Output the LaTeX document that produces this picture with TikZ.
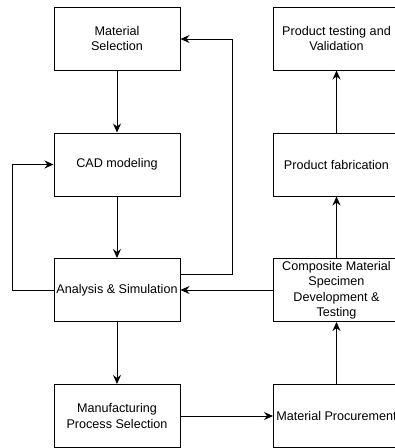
\documentclass[tikz,border=0pt]{standalone}
\usepackage{fontspec}
\setmainfont{Liberation Sans}
\usetikzlibrary{arrows.meta}
\begin{document}
\begin{tikzpicture}[x=1pt,y=-1pt,
  box/.style={draw, line width=1pt, minimum width=126pt, minimum height=63pt, align=center, font=\fontsize{12.6}{15.5}\selectfont, inner sep=1pt},
  conn/.style={line width=1pt, -{Stealth[length=9pt,width=8pt,inset=3pt]}}]
\useasboundingbox (0,0) rectangle (395,448);
\node[box] (ms) at (117,38.5) {Material\\Selection};
\node[box] (cad) at (117,164.5) {CAD modeling};
\node[box] (an) at (117,290) {Analysis \& Simulation};
\node[box] (mps) at (117,416) {Manufacturing\\Process Selection};
\node[box] (ptv) at (336.5,38.5) {Product testing and\\Validation};
\node[box] (pf) at (336.5,164.5) {Product fabrication};
\node[box] (cms) at (336.5,290) {Composite Material\\Specimen\\Development \&\\Testing};
\node[box] (mp) at (336.5,416) {Material Procurement};
\coordinate (l1) at (12,290);
\coordinate (l2) at (12,164.5);
\coordinate (r1) at (232,274);
\coordinate (r2) at (232,39);
\draw[conn] (ms) -- (cad);
\draw[conn] (cad) -- (an);
\draw[conn] (an) -- (mps);
\draw[conn] (an.west) -- (l1) -- (l2) -- (cad.west);
\draw[conn] (an.east |- r1) -- (r1) -- (r2) -- (ms.east |- r2);
\draw[conn] (cms.west) -- (an.east);
\draw[conn] (mps.east) -- (mp.west);
\draw[conn] (mp) -- (cms);
\draw[conn] (cms) -- (pf);
\draw[conn] (pf) -- (ptv);
\end{tikzpicture}
\end{document}
